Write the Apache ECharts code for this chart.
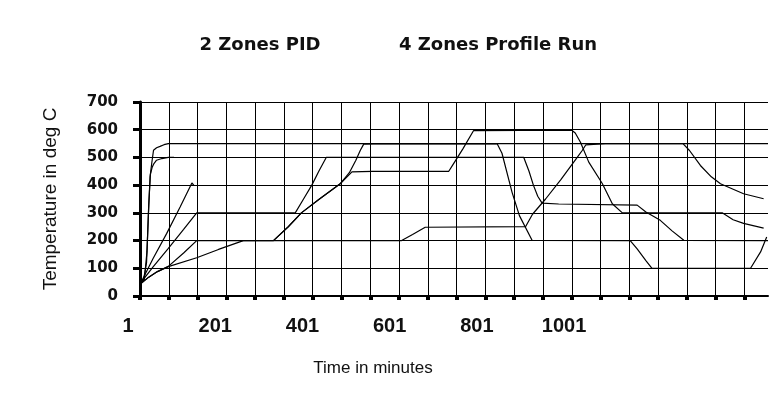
<!DOCTYPE html>
<html lang="en">
<head>
<meta charset="UTF-8">
<script src="https://cdn.jsdelivr.net/npm/echarts@6.0.0/dist/echarts.min.js"></script>
<style>
    html, body { margin: 0; height: 100%; background: #fff; }
    #chart { width: 779px; height: 403px; }
</style>
</head>
<body>
<div id="chart"></div>
<script>
// time axis: minutes 0..1440, grid every 66 min, labels every 200
var xLabels = ['1', '201', '401', '601', '801', '1001'];
var xLabelAt = [0, 200, 400, 600, 800, 1000];
var yTicks = [0, 100, 200, 300, 400, 500, 600, 700];

// 2 zones PID
var pidZone1 = [[2,48],[8,57],[15,120],[19,280],[23,430],[27,480],[31,526],[38,535],[46,540],[55,546],[65,550],[1440,550]];
var pidZone2 = [[2,45],[10,60],[16,160],[20,330],[24,440],[28,465],[32,478],[38,490],[50,496],[65,500],[78,500]];

// 4 zones profile run
var zoneA = [[2,48],[30,105],[65,172],[100,240],[130,300],[356,300],[375,350],[394,400],[410,450],[427,500],
    [880,500],[892,450],[902,400],[912,360],[922,335],[960,332],[1140,328],[1160,303],[1193,273],[1220,235],[1247,201],[1440,200]];
var zoneB = [[2,45],[20,68],[40,88],[65,107],[100,155],[130,200],[306,200],[340,250],[370,300],[410,348],[459,405],
    [486,448],[532,450],[708,450],[718,475],[740,530],[765,597],[990,598],[998,588],[1010,555],[1029,483],[1060,406],
    [1083,333],[1106,300],[1335,300],[1360,275],[1384,262],[1430,245]];
var zoneC = [[2,45],[20,68],[40,88],[65,106],[130,138],[180,168],[237,200],[306,200],[340,250],[370,300],[410,348],
    [459,405],[480,445],[495,490],[505,525],[513,548],[560,550],[819,549],[830,515],[853,375],[870,290],[899,201],
    [1124,200],[1140,170],[1160,128],[1174,100],[1400,100],[1423,159],[1437,213]];
var zoneD = [[2,48],[30,135],[61,225],[92,321],[119,408],[124,398],[124,null],[306,200],[600,200],[625,222],[654,248],
    [884,250],[900,295],[930,350],[965,420],[1000,495],[1014,525],[1022,545],[1067,550],[1245,550],[1260,525],
    [1285,471],[1310,430],[1331,405],[1384,369],[1430,351]];

var allData = [pidZone1, pidZone2, zoneA, zoneB, zoneC, zoneD];

var gridTicks = [];
for (var t = 0; t <= 1400; t += 66) gridTicks.push(t);

var myChart = echarts.init(document.getElementById('chart'));

var option = {
    backgroundColor: '#fff',
    animation: false,
    title: [
        {
            text: '2 Zones PID',
            left: 255, top: 31, textAlign: 'center',
            textStyle: { fontFamily: 'DejaVu Sans', fontWeight: 'bold', fontSize: 18, color: '#111' }
        },
        {
            text: '4 Zones Profile Run',
            left: 493, top: 31, textAlign: 'center',
            textStyle: { fontFamily: 'DejaVu Sans', fontWeight: 'bold', fontSize: 18, color: '#111' }
        }
    ],
    grid: { left: 140, top: 102, width: 628, height: 194 },
    xAxis: {
        type: 'value',
        min: 0,
        max: 1440,
        interval: 66,
        name: 'Time in minutes',
        nameLocation: 'middle',
        nameGap: 64,
        nameTextStyle: { fontFamily: 'Liberation Sans', fontSize: 17, color: '#111', padding: [0, 162, 0, 0] },
        axisLine: { lineStyle: { color: '#000', width: 2 } },
        axisTick: { customValues: gridTicks, length: 4, lineStyle: { color: '#000', width: 4 } },
        axisLabel: {
            customValues: xLabelAt,
            formatter: function (v) { return xLabels[xLabelAt.indexOf(v)]; },
            margin: 20,
            padding: [0, 24, 0, 0],
            fontFamily: ['Liberation Sans Narrow', 'Liberation Sans'],
            fontWeight: 'bold',
            fontSize: 20,
            color: '#111'
        },
        splitLine: { show: true, lineStyle: { color: '#000', width: 1 } }
    },
    yAxis: {
        type: 'value',
        min: 0,
        max: 700,
        interval: 100,
        name: 'Temperature in deg C',
        nameLocation: 'middle',
        nameGap: 80,
        nameTextStyle: { fontFamily: 'Liberation Sans', fontSize: 19, color: '#111' },
        axisLine: { show: true, lineStyle: { color: '#000', width: 3 } },
        axisTick: { show: true, length: 7, lineStyle: { color: '#000', width: 3 } },
        axisLabel: {
            formatter: function (v) { return yTicks.indexOf(v) >= 0 ? String(v) : ''; },
            margin: 22,
            fontFamily: 'DejaVu Sans',
            fontWeight: 'bold',
            fontSize: 15,
            color: '#111'
        },
        splitLine: { show: true, lineStyle: { color: '#000', width: 1 } }
    },
    series: allData.map(function (d) {
        return {
            type: 'line',
            data: d,
            symbol: 'none',
            silent: true,
            lineStyle: { color: '#000', width: 1.2 }
        };
    })
};

myChart.setOption(option);
</script>
</body>
</html>
